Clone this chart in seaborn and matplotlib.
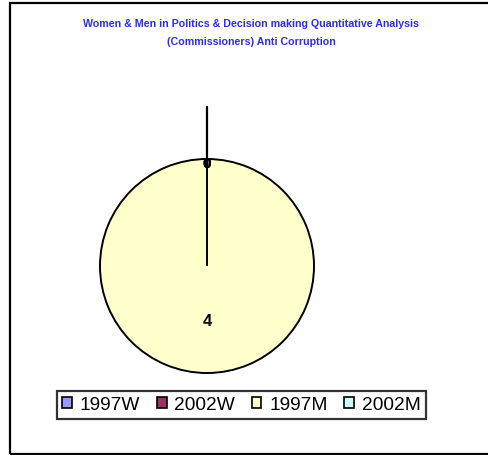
import matplotlib
matplotlib.use("Agg")
import matplotlib.pyplot as plt
import seaborn as sns
import numpy as np
from matplotlib.patches import Rectangle, Patch

sns.set_theme(style="white")
plt.rcParams['font.family'] = ['Liberation Sans', 'DejaVu Sans']
plt.rcParams['text.color'] = 'black'

categories = ["1997W", "2002W", "1997M", "2002M"]
values = [0, 0, 4, 0]
colors = ["#9999FF", "#993366", "#FFFFCC", "#CCFFFF"]
title_lines = ["Women & Men in Politics & Decision making Quantitative Analysis",
               "(Commissioners) Anti Corruption"]

W, H = 488, 456
fig = plt.figure(figsize=(W / 100, H / 100), dpi=100)
fig.patch.set_facecolor("white")

# outer frame
fig.patches.append(Rectangle((10 / W, 1 / H), 500 / W, 451 / H, transform=fig.transFigure,
                             fill=False, edgecolor="black", linewidth=1.6))

cx, cy, r = 207, H - 267, 107
ax = fig.add_axes([(cx - r) / W, (cy - r) / H, 2 * r / W, 2 * r / H])

zero_labels = ["0" if v == 0 else "" for v in values]
wedges, texts, autotexts = ax.pie(
    values, colors=colors, startangle=90, counterclock=False,
    labels=zero_labels, labeldistance=0.96,
    autopct=lambda p: "" if p == 0 else f"{p * sum(values) / 100:.0f}",
    pctdistance=0.51,
    wedgeprops=dict(edgecolor="black", linewidth=1.4),
    textprops=dict(fontsize=12, fontweight="bold", color="black"))
for t in texts:
    t.set_fontsize(11)
    t.set_ha("center")
    t.set_va("center")
    t.set_fontweight("heavy")
ax.set_xlim(-1, 1)
ax.set_ylim(-1, 1)
ax.set_aspect("equal")
ax.axis("off")

# leader line for the zero slices
theta = np.deg2rad(wedges[0].theta1)
ax.plot([np.cos(theta) * 1.0, np.cos(theta) * 1.49], [np.sin(theta) * 1.0, np.sin(theta) * 1.49],
        color="black", linewidth=1.6, clip_on=False)

fig.text(251 / W, 1 - 24 / H, title_lines[0], ha="center", va="center",
         color="#2B2BFF", fontsize=7.7, fontweight="bold")
fig.text(251 / W, 1 - 42 / H, title_lines[1], ha="center", va="center",
         color="#2B2BFF", fontsize=7.7, fontweight="bold")

handles = [Patch(facecolor=c, edgecolor="black", linewidth=1.2) for c in colors]
leg = fig.legend(handles, categories, loc="center", bbox_to_anchor=(241.5 / W, 50 / H),
                 ncol=4, fontsize=13.8, frameon=True, fancybox=False,
                 handlelength=0.5, handleheight=0.5, handletextpad=0.4,
                 columnspacing=0.88, borderpad=0.3, borderaxespad=0)
leg.get_frame().set_edgecolor("black")
leg.get_frame().set_linewidth(1.6)
for t in leg.get_texts():
    t.set_color("black")

fig.savefig("out.png", dpi=100, facecolor="white")
